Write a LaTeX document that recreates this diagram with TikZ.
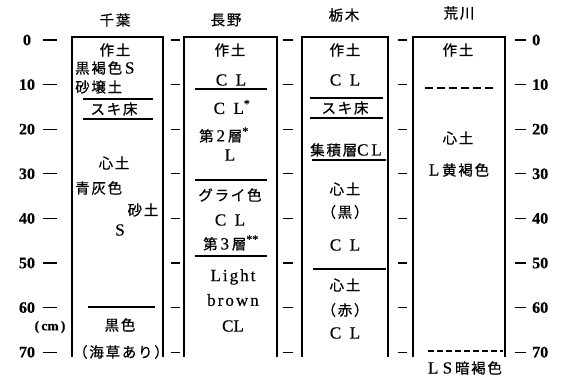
\documentclass[tikz,border=0pt]{standalone}
\usepackage{fontspec}
\setmainfont[FakeBold=0.5]{Liberation Serif}
\newfontfamily\jp[LetterSpace=12,FakeBold=0.6]{Noto Sans CJK JP}
\newfontfamily\lsp[LetterSpace=12,FakeBold=0.5]{Liberation Serif}
\newcommand\LT{\rmfamily\fontsize{17}{18}\selectfont}
\begin{document}
\begin{tikzpicture}[x=1pt,y=-1pt,
  box/.style={line width=1.6pt},
  sep/.style={line width=1.1pt},
  tk/.style={line width=1.3pt},
  t/.style={font=\jp\fontsize{14.5}{16}\selectfont, inner sep=0pt},
  lt/.style={font=\LT, inner sep=0pt},
  num/.style={font=\rmfamily\bfseries\fontsize{16}{18}\selectfont, inner sep=0pt},
  dsh/.style={line width=1.1pt, dash pattern=on 8pt off 4pt},
  dsh2/.style={line width=1.1pt, dash pattern=on 6pt off 3pt}]
\useasboundingbox (0,0) rectangle (566,377);
% axes and ticks
\foreach \k/\lab in {0/0,1/10,2/20,3/30,4/40,5/50,6/60,7/70}{
  \pgfmathsetmacro\yy{40+44.6*\k}
  \draw[tk] (43,\yy) -- (57,\yy);
  \node[num] (L\k) at (27,\yy) {\lab};
  \draw[tk] (171,\yy) -- (180,\yy);
  \draw[tk] (283,\yy) -- (293,\yy);
  \draw[tk] (398,\yy) -- (407,\yy);
  \draw[tk] (515,\yy) -- (526,\yy);
  \node[num,anchor=west] (R\k) at (532,\yy) {\lab};
}
\node[font=\rmfamily\bfseries\fontsize{13.5}{14}\selectfont, inner sep=0pt] (cm) at (50,327) {(\,cm\,)};
% titles
\node[t] (T1) at (115,20) {千葉};
\node[t] (T2) at (226,20) {長野};
\node[t] (T3) at (344,15) {栃木};
\node[t] (T4) at (459,13) {荒川};
% boxes
\draw[box] (72,357) -- (72,37) -- (163,37) -- (163,357);
\draw[box] (184,357) -- (184,37) -- (277,37) -- (277,357);
\draw[box] (302,357) -- (302,37) -- (388,37) -- (388,357);
\draw[box] (413,357) -- (413,37) -- (505,37) -- (505,357);
% Chiba
\node[t] (a1) at (115,50) {作土};
\node[t,anchor=west] (a2) at (75,68) {黒褐色{\LT\,S}};
\node[t,anchor=west] (a3) at (75,87) {砂壌土};
\draw[sep] (83,99) -- (153,99);
\node[t] (a4) at (114,109) {スキ床};
\draw[sep] (83,119) -- (153,119);
\node[t] (a5) at (114,163) {心土};
\node[t,anchor=west] (a6) at (75,188) {青灰色};
\node[t] (a7) at (143,210) {砂土};
\node[lt] (a8) at (120,230) {S};
\draw[sep] (88,307) -- (155,307);
\node[t] (a9) at (120,325) {黒色};
\node[t] (a10) at (121,352) {（海草あり）};
% Nagano
\node[t] (b1) at (230,50) {作土};
\node[lt] (b2) at (231,80) {C\ \ L};
\draw[sep] (195,89) -- (267,89);
\node[lt] (b3) at (232,107) {C\ \ L\textsuperscript{*}};
\node[t] (b4) at (224,135) {第{\LT\,2\,}層{\LT\textsuperscript{*}}};
\node[lt] (b5) at (230,155) {L};
\draw[sep] (195,180) -- (267,180);
\node[t] (b6) at (230,195) {グライ色};
\node[lt] (b7) at (230,220) {C\ \ L};
\node[t] (b8) at (231,243) {第{\LT\,3\,}層{\LT\textsuperscript{**}}};
\draw[sep] (195,256) -- (267,256);
\node[lt,font=\lsp\fontsize{17}{18}\selectfont] (b9) at (233,277) {Light};
\node[lt,font=\lsp\fontsize{17}{18}\selectfont] (b10) at (233,300) {brown};
\node[lt] (b11) at (233,326) {CL};
% Tochigi
\node[t] (c1) at (345,50) {作土};
\node[lt] (c2) at (345,80) {C\ \ L};
\draw[sep] (310,98) -- (383,98);
\node[t] (c3) at (345,108) {スキ床};
\draw[sep] (310,118) -- (383,118);
\node[t] (c4) at (346,150) {集積層{\LT C\,L}};
\draw[sep] (312,160) -- (386,160);
\node[t] (c5) at (345,189) {心土};
\node[t] (c6) at (345,212) {（黒）};
\node[lt] (c7) at (345,245) {C\ \ L};
\draw[sep] (313,269) -- (386,269);
\node[t] (c8) at (345,285) {心土};
\node[t] (c9) at (345,310) {（赤）};
\node[lt] (c10) at (345,333) {C\ \ L};
% Arakawa
\node[t] (d1) at (458,50) {作土};
\draw[dsh] (425,88) -- (495,88);
\node[t] (d2) at (458,138) {心土};
\node[t] (d3) at (459,170) {{\LT L\,}黄褐色};
\draw[dsh2] (428,351) -- (503,351);
\node[t] (d4) at (465,368) {{\LT L\ S\,}暗褐色};
\end{tikzpicture}
\end{document}
